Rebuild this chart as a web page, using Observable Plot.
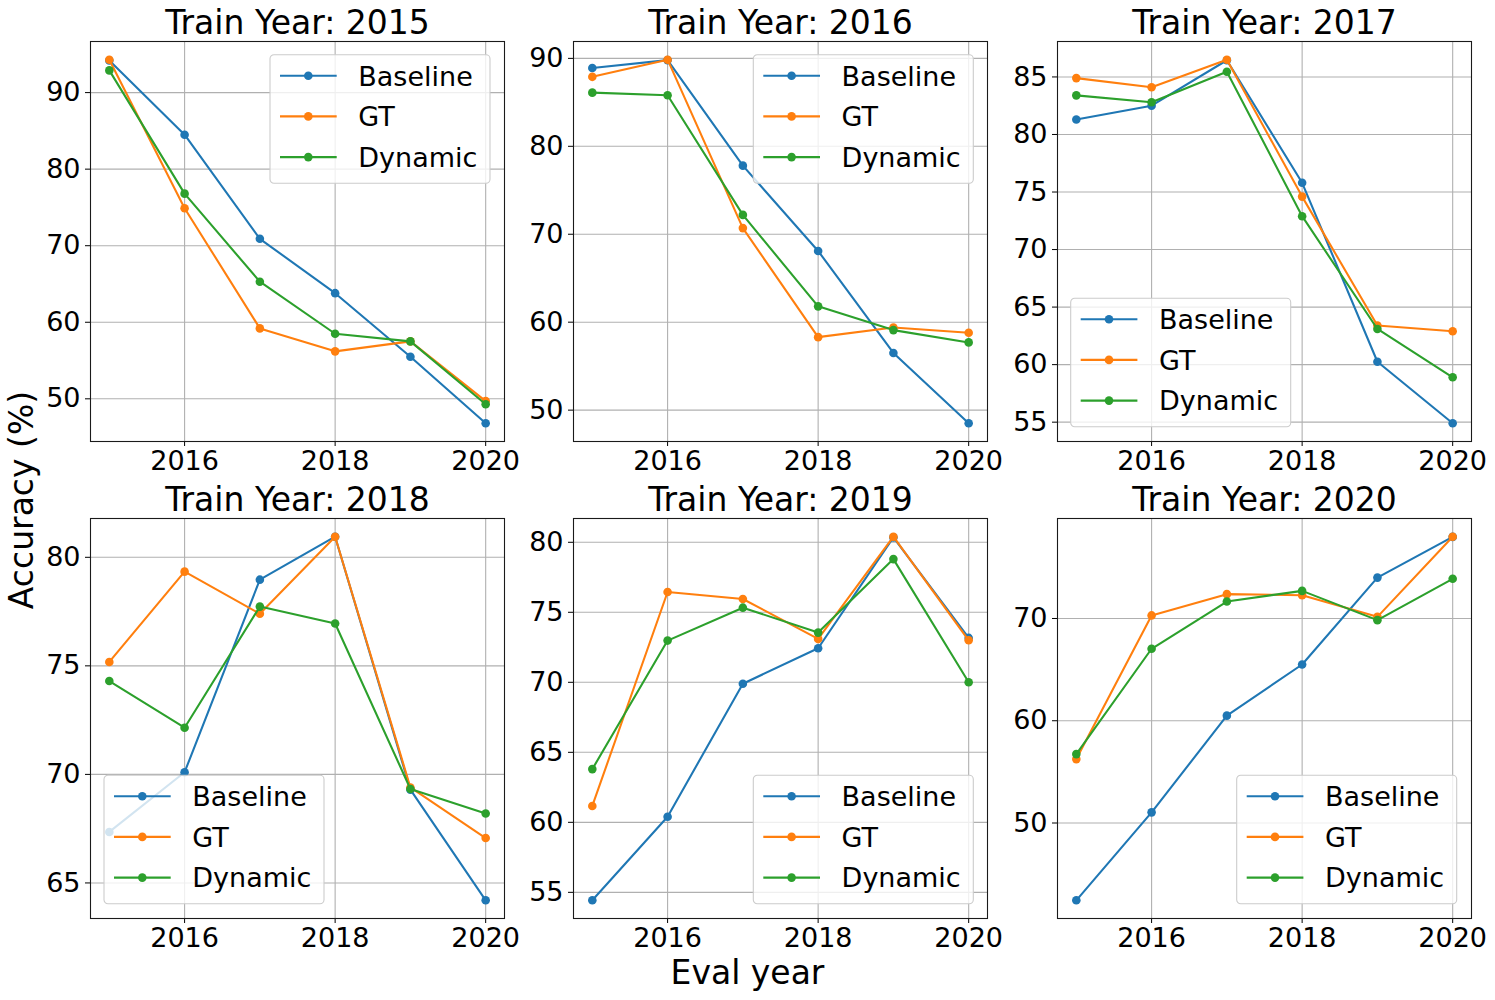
<!DOCTYPE html>
<html><head><meta charset="utf-8">
<script src="https://cdn.jsdelivr.net/npm/d3@7"></script>
<script src="https://cdn.jsdelivr.net/npm/@observablehq/plot@0.6"></script>
<style>
body{margin:0;background:#fff;}
#fig{position:relative;width:1495px;height:1000px;background:#fff;font-family:"DejaVu Sans",sans-serif;overflow:hidden;}
.panel{position:absolute;}
.ov{position:absolute;left:0;top:0;}
</style></head><body><div id="fig"></div>
<script>
// ---- data ----
const evalYears = [2015, 2016, 2017, 2018, 2019, 2020];
const trainYears = [2015, 2016, 2017, 2018, 2019, 2020];
const seriesNames = ["Baseline", "GT", "Dynamic"];
const seriesColors = ["#1f77b4", "#ff7f0e", "#2ca02c"];
const xTicks = [2016, 2018, 2020];

// accuracy (%) per train year (rows) and eval year (columns)
const baselineAcc = [
  [94.2, 84.5, 70.9, 63.8, 55.5, 46.8],
  [88.9, 89.8, 77.8, 68.1, 56.5, 48.5],
  [81.3, 82.5, 86.45, 75.8, 60.25, 54.9],
  [67.35, 70.1, 78.97, 80.95, 69.3, 64.2],
  [54.43, 60.4, 69.9, 72.43, 80.35, 73.17],
  [42.44, 51.04, 60.5, 65.5, 74.0, 77.98]
];
const gtAcc = [
  [94.3, 74.9, 59.2, 56.2, 57.5, 49.7],
  [87.9, 89.85, 70.7, 58.3, 59.4, 58.8],
  [84.9, 84.1, 86.5, 74.6, 63.4, 62.9],
  [75.18, 79.34, 77.4, 80.95, 69.4, 67.07],
  [61.17, 76.45, 75.95, 73.1, 80.4, 73.0],
  [56.25, 70.3, 72.38, 72.28, 70.16, 78.0]
];
const dynamicAcc = [
  [92.9, 76.8, 65.3, 58.5, 57.5, 49.3],
  [86.1, 85.8, 72.2, 61.8, 59.1, 57.7],
  [83.4, 82.8, 85.45, 72.9, 63.1, 58.9],
  [74.3, 72.15, 77.73, 76.95, 69.33, 68.2],
  [63.8, 72.98, 75.33, 73.55, 78.8, 70.0],
  [56.74, 67.04, 71.66, 72.7, 69.84, 73.88]
];
const yTicks = [
  [50, 60, 70, 80, 90],
  [50, 60, 70, 80, 90],
  [55, 60, 65, 70, 75, 80, 85],
  [65, 70, 75, 80],
  [55, 60, 65, 70, 75, 80],
  [50, 60, 70]
];
const legendLoc = ["upper right", "upper right", "lower left", "lower left", "lower right", "lower right"];

// ---- layout ----
const colLeft = [90, 573.3, 1056.7];
const rowTop = [40.7, 517.7];
const frameW = 414, frameH = 400;
const mL = 55, mR = 35, mT = 45, mB = 45;
const font = "DejaVu Sans";

const fig = document.getElementById("fig");
const accBySeries = [baselineAcc, gtAcc, dynamicAcc];

trainYears.forEach((ty, i) => {
  const rows = [];
  seriesNames.forEach((s, si) => {
    evalYears.forEach((ey, j) => rows.push({series: s, year: ey, acc: accBySeries[si][i][j]}));
  });
  const [lo, hi] = d3.extent(rows, d => d.acc);
  const pad = (hi - lo) * 0.05;
  const marks = [
    Plot.gridX(xTicks, {stroke: "#b0b0b0", strokeOpacity: 1, strokeWidth: 1.1}),
    Plot.gridY(yTicks[i], {stroke: "#b0b0b0", strokeOpacity: 1, strokeWidth: 1.1})
  ];
  seriesNames.forEach((s, si) => {
    const sub = rows.filter(d => d.series === s);
    marks.push(Plot.line(sub, {x: "year", y: "acc", stroke: seriesColors[si], strokeWidth: 2.08}));
    marks.push(Plot.dot(sub, {x: "year", y: "acc", fill: seriesColors[si], r: 4.3, stroke: "none"}));
  });
  marks.push(Plot.frame({stroke: "#1a1a1a", strokeWidth: 1.1}));
  marks.push(Plot.text([`Train Year: ${ty}`], {frameAnchor: "top", lineAnchor: "bottom", dy: -7.7, fontSize: 33, fill: "black"}));

  const chart = Plot.plot({
    width: frameW + mL + mR,
    height: frameH + mT + mB,
    marginLeft: mL, marginRight: mR, marginTop: mT, marginBottom: mB,
    style: {background: "none", overflow: "visible", fontFamily: font, fontSize: "27px", color: "black"},
    x: {domain: [2014.75, 2020.25], ticks: xTicks, tickFormat: "d", tickSize: 5, tickPadding: 4.5, label: null},
    y: {domain: [lo - pad, hi + pad], ticks: yTicks[i], tickSize: 5, tickPadding: 5, label: null},
    marks
  });
  const c = i % 3, r = Math.floor(i / 3);
  const left = colLeft[c], top = rowTop[r];
  chart.classList.add("panel");
  chart.style.left = (left - mL) + "px";
  chart.style.top = (top - mT) + "px";
  chart.style.maxWidth = "none";
  fig.appendChild(chart);
});

// ---- overlay: legends and shared labels ----
const ov = d3.select(fig).append("svg").attr("class", "ov")
  .attr("width", 1495).attr("height", 1000)
  .style("font-family", font);

const lgW = 220, lgH = 128.5, inset = 14;
trainYears.forEach((ty, i) => {
  const c = i % 3, r = Math.floor(i / 3);
  const left = colLeft[c], top = rowTop[r];
  const loc = legendLoc[i];
  const lx = loc.includes("right") ? left + frameW - inset - lgW : left + inset;
  const ly = loc.includes("upper") ? top + inset : top + frameH - inset - lgH;
  const g = ov.append("g").attr("transform", `translate(${lx},${ly})`);
  g.append("rect").attr("width", lgW).attr("height", lgH).attr("rx", 4)
    .attr("fill", "white").attr("fill-opacity", 0.8)
    .attr("stroke", "#cccccc").attr("stroke-width", 1.1);
  seriesNames.forEach((s, si) => {
    const yy = 21 + si * 40.7;
    g.append("line").attr("x1", 10).attr("x2", 66.7).attr("y1", yy).attr("y2", yy)
      .attr("stroke", seriesColors[si]).attr("stroke-width", 2.08);
    g.append("circle").attr("cx", 38.3).attr("cy", yy).attr("r", 4.3).attr("fill", seriesColors[si]);
    g.append("text").attr("x", 88.3).attr("y", yy + 9.9).attr("font-size", 27).attr("fill", "black").text(s);
  });
});

ov.append("text").attr("transform", "translate(33,500) rotate(-90)")
  .attr("text-anchor", "middle").attr("font-size", 33).attr("fill", "black").text("Accuracy (%)");
ov.append("text").attr("x", 747.5).attr("y", 983.5)
  .attr("text-anchor", "middle").attr("font-size", 33).attr("fill", "black").text("Eval year");
</script>
</body></html>
